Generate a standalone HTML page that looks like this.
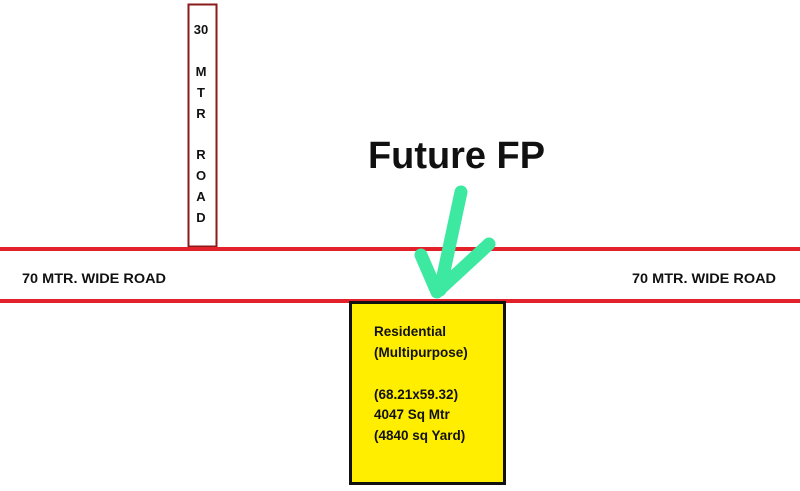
<!DOCTYPE html>
<html><head><meta charset="utf-8"><style>
html,body{margin:0;padding:0;background:#fff;width:800px;height:491px;overflow:hidden}
</style></head><body>
<svg width="800" height="491" viewBox="0 0 800 491" xmlns="http://www.w3.org/2000/svg" font-family="Liberation Sans, sans-serif" font-weight="bold">
<rect x="0" y="0" width="800" height="491" fill="#fff"/>
<rect x="188.5" y="4.5" width="28" height="242" fill="#fff" stroke="#8b1a1a" stroke-width="2"/>
<g font-size="13" fill="#111" text-anchor="middle">
<text x="201" y="34">30</text>
<text x="201" y="76">M</text>
<text x="201" y="97">T</text>
<text x="201" y="118">R</text>
<text x="201" y="159">R</text>
<text x="201" y="180">O</text>
<text x="201" y="201">A</text>
<text x="201" y="222">D</text>
</g>
<rect x="0" y="247" width="800" height="4" fill="#e3212b"/>
<rect x="0" y="299" width="800" height="4" fill="#e3212b"/>
<text x="22" y="283" font-size="13.5" fill="#111" textLength="144" lengthAdjust="spacingAndGlyphs">70 MTR. WIDE ROAD</text>
<text x="632" y="283" font-size="13.5" fill="#111" textLength="144" lengthAdjust="spacingAndGlyphs">70 MTR. WIDE ROAD</text>
<rect x="350.5" y="302.5" width="154" height="181" fill="#ffee00" stroke="#111" stroke-width="3"/>
<g font-size="13.5" fill="#111">
<text x="374" y="336">Residential</text>
<text x="374" y="357">(Multipurpose)</text>
<text x="374" y="399">(68.21x59.32)</text>
<text x="374" y="419">4047 Sq Mtr</text>
<text x="374" y="440">(4840 sq Yard)</text>
</g>
<text x="368" y="168" font-size="38" fill="#111" textLength="177" lengthAdjust="spacingAndGlyphs">Future FP</text>
<path d="M461 192 L440 290 M421 255 L437 292 L489 244" fill="none" stroke="#3de8a0" stroke-width="13" stroke-linecap="round" stroke-linejoin="round"/>
</svg>
</body></html>
